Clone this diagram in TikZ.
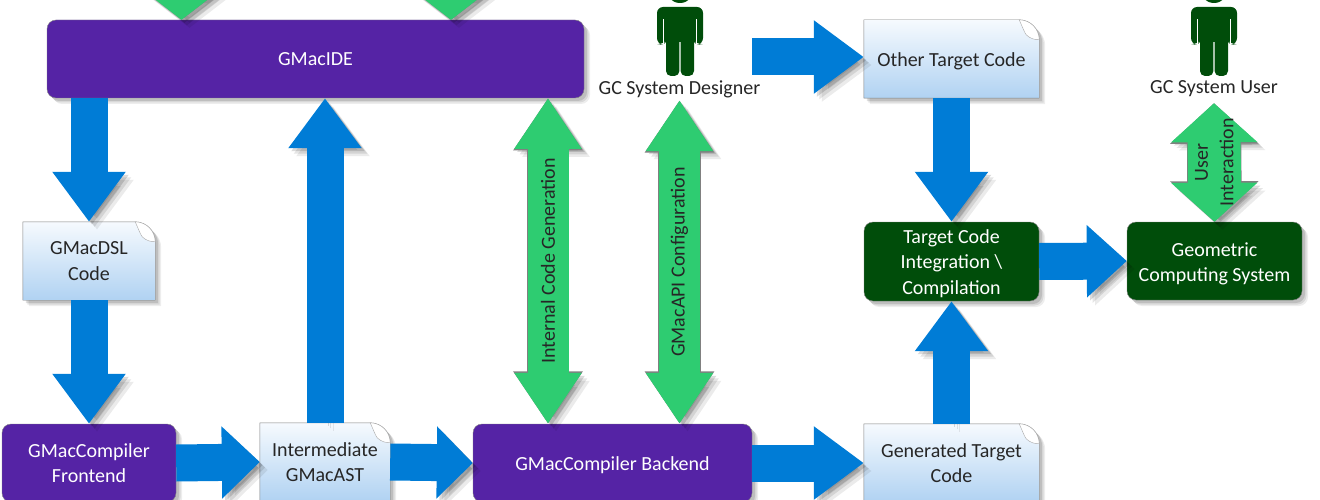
\documentclass[tikz,border=0pt]{standalone}
\usepackage{fontspec}
\setmainfont{Carlito}
\usetikzlibrary{arrows.meta,shadows,backgrounds}
\definecolor{purplebox}{RGB}{85, 35, 165}
\definecolor{greenbox}{RGB}{0, 77, 10}
\definecolor{bluearrow}{RGB}{0, 124, 214}
\definecolor{greenarrow}{RGB}{46, 204, 113}
\definecolor{doctop}{RGB}{246, 250, 254}
\definecolor{docbottom}{RGB}{176, 210, 242}

\tikzset{
  softshadow/.style={
    drop shadow={shadow xshift=6pt,shadow yshift=-6pt,opacity=.07,fill=black},
    drop shadow={shadow xshift=4.5pt,shadow yshift=-4.5pt,opacity=.09,fill=black},
    drop shadow={shadow xshift=3pt,shadow yshift=-3pt,opacity=.12,fill=black}},
  arrowshadow/.style={
    preaction={draw=black,opacity=.08,transform canvas={shift={(8pt,-8pt)}}},
    preaction={draw=black,opacity=.10,transform canvas={shift={(5.5pt,-5.5pt)}}},
    preaction={draw=black,opacity=.14,transform canvas={shift={(3pt,-3pt)}}}},
  processbox/.style={fill=purplebox, draw=gray, rounded corners=9pt, text=white, align=center, softshadow},
  systembox/.style={fill=greenbox, draw=gray, rounded corners=9pt, text=white, align=center, softshadow},
  doctext/.style={align=center, text=black!85, minimum height=78pt},
  labeltext/.style={text=black!85, minimum height=22pt, inner sep=0pt},
  blockarrow/.style={draw=bluearrow, line width=37pt, arrowshadow, -{Triangle[width=70pt,length=#1]}},
  blockarrow/.default=50pt,
  % double arrows: width of shaft, width of head, length of head
  greendouble/.style n args={3}{arrowshadow,
    preaction={draw=gray, line width=#1+1.4pt,
      {Triangle[width=#2+2pt,length=#3+1.5pt]}-{Triangle[width=#2+2pt,length=#3+1.5pt]}},
    draw=greenarrow, line width=#1,
    {Triangle[width=#2,length=#3]}-{Triangle[width=#2,length=#3]}},
  sidetext/.style={rotate=90, text=black!85, inner sep=0pt, align=center},
}

% moves text down without changing the size of its node
\newcommand{\lowertext}[2]{\raisebox{-#1}[\height][\depth]{#2}}

% document box with a folded corner, drawn behind its text node
\newcommand{\docbox}[4]{%
  \node[doctext, minimum width=#3] (#1) at (#2) {#4};
  \begin{pgfonlayer}{background}
    \path[draw=gray, top color=doctop, bottom color=docbottom, softshadow]
      (#1.south west) -- (#1.south east) -- ([yshift=-20pt]#1.north east)
      .. controls ([shift={(0pt,-9pt)}]#1.north east) and ([shift={(-9pt,0pt)}]#1.north east) .. ([xshift=-20pt]#1.north east)
      -- (#1.north west) -- cycle;
    \draw[gray!70, fill=white]
      ([xshift=-20pt]#1.north east)
      .. controls ([shift={(-16pt,-9pt)}]#1.north east) and ([shift={(-15pt,-12pt)}]#1.north east) .. ([shift={(-13pt,-15pt)}]#1.north east)
      .. controls ([shift={(-9pt,-19pt)}]#1.north east) and ([shift={(-4pt,-20pt)}]#1.north east) .. ([yshift=-20pt]#1.north east)
      .. controls ([shift={(0pt,-9pt)}]#1.north east) and ([shift={(-9pt,0pt)}]#1.north east) .. cycle;
  \end{pgfonlayer}}

% person figure, its head runs off the top of the page
\newcommand{\gcperson}[1]{%
  \begin{scope}[shift={(#1,0)}]
    \fill[greenbox] (0,-11) circle (14pt);
    \fill[greenbox, rounded corners=6pt] (-14,40) -- (-17,45) -- (-23,44) -- (-23,7) -- (23,7) -- (23,44) -- (17,45) -- (14,40) -- cycle;
    \fill[white] (-17,19) rectangle (-16,45);
    \fill[white] (16,19) rectangle (17,45);
    \fill[greenbox, rounded corners=5pt] (-14,30) rectangle (-.6,76);
    \fill[greenbox, rounded corners=5pt] (.6,30) rectangle (14,76);
    \fill[greenbox] (-14,20) rectangle (14,42);
  \end{scope}}

\begin{document}
\begin{tikzpicture}[x=1pt, y=-1pt, font=\fontsize{20}{25.5}\selectfont]
\clip (0,0) rectangle (1320,500);

% Main boxes
\node[processbox, minimum width=537pt, minimum height=78pt] (ide) at (315.5,59) {GMacIDE};
\node[processbox, minimum width=174pt, minimum height=78pt] (frontend) at (89,463) {GMacCompiler\\Frontend};
\node[processbox, minimum width=279pt, minimum height=78pt] (backend) at (612.5,463) {\lowertext{2pt}{GMacCompiler Backend}};
\node[systembox, minimum width=175pt, minimum height=79pt] (integration) at (951.5,261.5) {\lowertext{2pt}{Target Code}\\\lowertext{2pt}{Integration \textbackslash}\\\lowertext{2pt}{Compilation}};
\node[systembox, minimum width=175pt, minimum height=78pt] (geometric) at (1214.5,261) {\lowertext{3pt}{Geometric}\\\lowertext{3pt}{Computing System}};

% Documents
\docbox{dsl}{89,261}{132pt}{GMacDSL\\Code}
\docbox{ast}{325,462}{130pt}{Intermediate\\GMacAST}
\docbox{other}{951.5,59}{175pt}{\lowertext{2pt}{Other Target Code}}
\docbox{generated}{951.5,463}{175pt}{Generated Target\\Code}

% People
\gcperson{680}
\gcperson{1214}
\node[labeltext] (designer) at (679.5,89) {GC System Designer};
\node[labeltext, minimum height=28pt] (user) at (1214,89) {GC System User};

% Free ends
\coordinate (ideleft) at (181.5,-60);
\coordinate (ideright) at (451,-60);
\coordinate (codegen) at (548,98);
\coordinate (designerout) at (752,57);

% Blue arrows
\draw[blockarrow] (dsl.north |- ide.south) -- (dsl.north);
\draw[blockarrow] (dsl.south) -- (frontend.north);
\draw[blockarrow] (ast.north) -- (ast.north |- ide.south);
\draw[blockarrow=38pt] (frontend.east) -- (ast.west);
\draw[blockarrow=36pt] (ast.east) -- (backend.west);
\draw[blockarrow] (backend.east) -- (generated.west);
\draw[blockarrow] (generated.north) -- (integration.south);
\draw[blockarrow] (other.south) -- (integration.north);
\draw[blockarrow] (designerout) -- (designerout -| other.west);
\draw[blockarrow=40pt] (integration.east) -- (geometric.west);

% Green arrows
\draw[greendouble={41pt}{84pt}{33pt}] (ideleft) -- (ideleft |- ide.north);
\draw[greendouble={41pt}{84pt}{33pt}] (ideright) -- (ideright |- ide.north);
\draw[greendouble={41pt}{64pt}{51pt}] (codegen) -- (codegen |- backend.north) node[midway, sidetext] {Internal Code Generation};
\draw[greendouble={41pt}{64pt}{51pt}] (designer.south) -- (designer.south |- backend.north) node[midway, sidetext] {GMacAPI Configuration};
\draw[greendouble={53pt}{84pt}{39pt}] (user.south) -- (geometric.north) node[midway, sidetext] {User\\Interaction};
\end{tikzpicture}
\end{document}
